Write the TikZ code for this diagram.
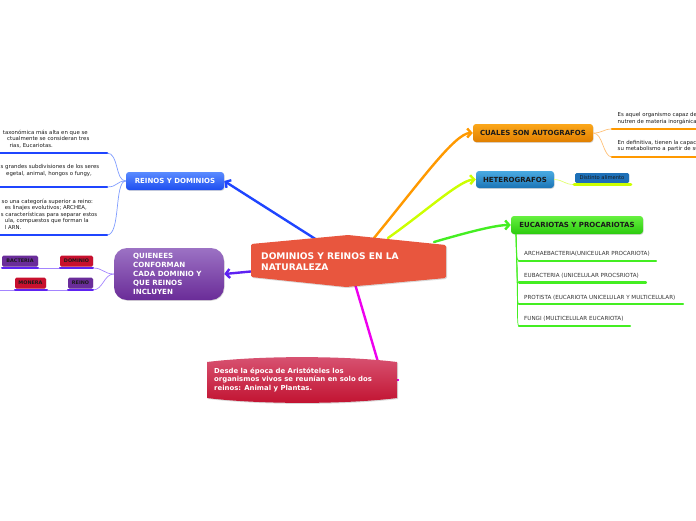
\documentclass[tikz,border=0pt]{standalone}
\usepackage{fontspec}
\setmainfont{DejaVu Sans}
\usetikzlibrary{arrows.meta,shadows}
\pgfdeclarelayer{bg}
\pgfsetlayers{bg,main}
\definecolor{cBlue}{HTML}{1F45FF}
\definecolor{cBlueL}{HTML}{7F9CFF}
\definecolor{cViolet}{HTML}{5E22F2}
\definecolor{cVioletL}{HTML}{A485FF}
\definecolor{cOrange}{HTML}{FF9900}
\definecolor{cOrangeL}{HTML}{FFC27A}
\definecolor{cYG}{HTML}{CCFF00}
\definecolor{cYGL}{HTML}{E2FF70}
\definecolor{cGreen}{HTML}{44EE22}
\definecolor{cMag}{HTML}{EE00EE}
\definecolor{bTop}{HTML}{5A8BFF}
\definecolor{bBot}{HTML}{1E4EF0}
\definecolor{pTop}{HTML}{9C72C4}
\definecolor{pBot}{HTML}{6A2C98}
\definecolor{oTop}{HTML}{FBA71A}
\definecolor{oBot}{HTML}{E07F00}
\definecolor{hTop}{HTML}{4AAAE2}
\definecolor{hBot}{HTML}{1B75B6}
\definecolor{gTop}{HTML}{66F040}
\definecolor{gBot}{HTML}{2BCB0E}
\definecolor{cCenter}{HTML}{E8563E}
\definecolor{rTop}{HTML}{D85473}
\definecolor{rBot}{HTML}{C1112F}
\definecolor{dBlue}{HTML}{1E70B8}
\definecolor{sPurp}{HTML}{6A2D9A}
\definecolor{sRed}{HTML}{C8102E}
\definecolor{txtgray}{HTML}{333333}
\definecolor{darktxt}{HTML}{1A1A1A}
\tikzset{
  mbox/.style={rounded corners=3pt, inner sep=0pt, minimum height=18pt,
    font=\bfseries\fontsize{7}{8.5}\selectfont, text=darktxt,
    drop shadow={opacity=0.3, shadow xshift=0.6pt, shadow yshift=-0.8pt}},
  tinytxt/.style={font=\fontsize{5.6}{6.5}\selectfont, text=txtgray, inner sep=0pt, anchor=west},
  linetxt/.style={font=\fontsize{5.4}{6.5}\selectfont, text=darktxt, inner sep=0pt, anchor=west,
    text height=3.9pt, text depth=1.1pt},
  sbox/.style={rounded corners=1.5pt, inner sep=0pt, minimum height=11pt,
    font=\bfseries\fontsize{4.9}{5.5}\selectfont, text=darktxt,
    drop shadow={opacity=0.25, shadow xshift=0.4pt, shadow yshift=-0.5pt}},
  conn/.style={line width=2.4pt, line cap=round},
  thinline/.style={line width=0.7pt},
  ul/.style={line width=2.6pt, line cap=round},
  tipb/.style={-{Straight Barb[length=4pt,width=9pt]}}
}
\begin{document}
\begin{tikzpicture}[x=1pt,y=-1pt]
\useasboundingbox (0,0) rectangle (696,520);
\clip (0,0) rectangle (696,520);

% ---------- central node ----------
\fill[black, opacity=0.15, rounded corners=1.5pt] (252,245) -- (349,236) -- (447,246) -- (447,279) -- (347,288) -- (252,278) -- cycle;
\fill[cCenter, rounded corners=1.5pt] (251,244) -- (348,235) -- (446,245) -- (446,278) -- (346,287) -- (251,277) -- cycle;
\node[font=\bfseries\fontsize{9.1}{11}\selectfont, text=white, align=left, anchor=west, inner sep=0pt] (main) at (261,261.5) {DOMINIOS Y REINOS EN LA\\NATURALEZA};

% ---------- bottom node ----------
\fill[black, opacity=0.15] (208,363) .. controls (261,356.5) and (345,356.5) .. (398,363) -- (398,399) .. controls (345,405.5) and (261,405.5) .. (208,399) -- cycle;
\shade[top color=rTop, bottom color=rBot] (207,362) .. controls (260,355.5) and (344,355.5) .. (397,362) -- (397,398) .. controls (344,404.5) and (260,404.5) .. (207,398) -- cycle;
\node[font=\bfseries\fontsize{6.9}{8.5}\selectfont, text=white, align=left, anchor=west, inner sep=0pt] (aris) at (214,379.5) {Desde la época de Aristóteles los\\organismos vivos se reunían en solo dos\\reinos: Animal y Plantas.};

% ---------- main topic boxes ----------
\node[mbox, top color=bTop, bottom color=bBot, text=white, minimum width=98pt] (reinos) at (175,181) {REINOS Y DOMINIOS};
\node[rounded corners=13pt, top color=pTop, bottom color=pBot, minimum width=110pt, minimum height=52pt,
  inner sep=0pt, drop shadow={opacity=0.3, shadow xshift=0.6pt, shadow yshift=-0.8pt}] (quien) at (169,274) {};
\node[font=\bfseries\fontsize{7.1}{8.9}\selectfont, text=white, align=left, anchor=west, inner sep=0pt] (quientxt) at (133,273.8)
  {QUIENEES\\CONFORMAN\\CADA DOMINIO Y\\QUE REINOS\\INCLUYEN};
\node[mbox, top color=oTop, bottom color=oBot, minimum width=120pt] (cuales) at (533,133) {CUALES SON AUTOGRAFOS};
\node[mbox, top color=hTop, bottom color=hBot, minimum width=78pt, minimum height=17pt] (hetero) at (515,179.5) {HETEROGRAFOS};
\node[mbox, top color=gTop, bottom color=gBot, minimum width=132pt] (eucar) at (577,225) {EUCARIOTAS Y PROCARIOTAS};

% ---------- small boxes ----------
\node[sbox, fill=sPurp, minimum width=36pt] (bact) at (20,261.2) {BACTERIA};
\node[sbox, fill=sRed, minimum width=33pt] (dom) at (76.5,261.2) {DOMINIO};
\node[sbox, fill=sRed, minimum width=31pt] (mon) at (30.5,283) {MONERA};
\node[sbox, fill=sPurp, minimum width=25pt] (rei) at (80.5,283) {REINO};
\node[sbox, fill=dBlue, minimum width=54pt, minimum height=10pt, font=\fontsize{5.2}{6}\selectfont] (dist) at (602,178) {Distinto alimento};

% ---------- left texts of REINOS Y DOMINIOS ----------
\node[linetxt] (l11) at (2.7,133) {taxonómica más alta en que se};
\node[linetxt] (l12) at (7,139.5) {ctualmente se consideran tres};
\node[linetxt] (l13) at (9.3,146) {rias, Eucariotas.};
\node[linetxt] (l21) at (0.5,167.3) {s grandes subdivisiones de los seres};
\node[linetxt] (l22) at (6,174) {egetal, animal, hongos o fungy,};
\node[linetxt] (l31) at (1.5,201.7) {so una categoría superior a reino:};
\node[linetxt] (l32) at (4.7,208.3) {es linajes evolutivos; ARCHEA,};
\node[linetxt] (l33) at (0.7,215) {s características para separar estos};
\node[linetxt] (l34) at (4.7,221.5) {ula, compuestos que forman la};
\node[linetxt] (l35) at (4.7,228) {l ARN.};

% ---------- right texts of CUALES SON AUTOGRAFOS ----------
\node[linetxt] (r11) at (617.5,115) {Es aquel organismo capaz de};
\node[linetxt] (r12) at (617.5,121.7) {nutren de materia inorgánica};
\node[linetxt] (r21) at (617.5,142.7) {En definitiva, tienen la capacidad};
\node[linetxt] (r22) at (617.5,149.3) {su metabolismo a partir de su};

% ---------- texts of EUCARIOTAS ----------
\node[tinytxt] (e1) at (524,254) {ARCHAEBACTERIA(UNICEULAR PROCARIOTA)};
\node[tinytxt] (e2) at (524,275.7) {EUBACTERIA (UNICELULAR PROCSRIOTA)};
\node[tinytxt] (e3) at (524,297.3) {PROTISTA (EUCARIOTA UNICELULAR Y MULTICELULAR)};
\node[tinytxt] (e4) at (524,319) {FUNGI (MULTICELULAR EUCARIOTA)};

% ---------- coordinates ----------
\coordinate (mB) at (317,240);
\coordinate (mP) at (256,271);
\coordinate (mO) at (374,238);
\coordinate (mY) at (388,238);
\coordinate (mG) at (434,242);
\coordinate (mM) at (355,284);
\coordinate (aT) at (378,362);
\coordinate (magTip) at (396,380);
\coordinate (magTipB) at (399,380);

\coordinate (lu1) at (107,153); \coordinate (lu1s) at (-3,153);
\coordinate (lu2) at (107,187); \coordinate (lu2s) at (-3,187);
\coordinate (lu3) at (107,235); \coordinate (lu3s) at (-3,235);

\coordinate (ru1) at (612,129); \coordinate (ru1e) at (700,129);
\coordinate (ru2) at (612,157); \coordinate (ru2e) at (700,157);

\coordinate (du1) at (574,184.5); \coordinate (du2) at (631,184.5);

\coordinate (eb) at (516,234);
\coordinate (ea1) at (519,261); \coordinate (ee1) at (656,261);
\coordinate (ea2) at (519,282.5); \coordinate (ee2) at (646,282.5);
\coordinate (ea3) at (519,304); \coordinate (ee3) at (683,304);
\coordinate (ea4) at (519,326); \coordinate (ee4) at (630,326);

\coordinate (ba) at (2,268); \coordinate (bb) at (38,268);
\coordinate (da) at (60,268); \coordinate (db) at (93,268);
\coordinate (m0) at (-2,290); \coordinate (ma) at (15,290); \coordinate (mb) at (47,290);
\coordinate (ra) at (68,290); \coordinate (rb) at (93,290);

% ---------- connectors (behind) ----------
\begin{pgfonlayer}{bg}
\draw[conn, cBlue, tipb] (mB) -- (reinos.east);
\draw[conn, cViolet, tipb] (mP) -- (quien.east);
\draw[conn, cOrange, tipb] (mO) .. controls (420,182) and (455,133) .. (cuales.west);
\draw[conn, cYG, tipb] (mY) .. controls (425,212) and (460,180) .. (hetero.west);
\draw[conn, cGreen, tipb] (mG) .. controls (465,233) and (495,225) .. (eucar.west);
\draw[conn, cMag] (mM) -- (aT);
\draw[line width=1.2pt, cMag] (magTip) -- (magTipB);

% REINOS Y DOMINIOS branches
\draw[thinline, cBlueL] (reinos.west) .. controls (115,181) and (119,153) .. (lu1);
\draw[thinline, cBlueL] (reinos.west) .. controls (116,181) and (118,187) .. (lu2);
\draw[thinline, cBlueL] (reinos.west) .. controls (114,181) and (121,235) .. (lu3);
\end{pgfonlayer}
\draw[ul, cBlue] (lu1s) -- (lu1);
\draw[ul, cBlue] (lu2s) -- (lu2);
\draw[ul, cBlue] (lu3s) -- (lu3);

% CUALES branches
\draw[thinline, cOrangeL] (cuales.east) .. controls (603,133) and (603,129) .. (ru1);
\draw[thinline, cOrangeL] (cuales.east) .. controls (603,133) and (603,157) .. (ru2);
\draw[ul, cOrange] (ru1) -- (ru1e);
\draw[ul, cOrange] (ru2) -- (ru2e);

% HETEROGRAFOS branch
\draw[thinline, cYGL] (hetero.east) .. controls (564,180) and (564,184.5) .. (du1);
\draw[ul, cYG] (du1) -- (du2);

% EUCARIOTAS branches
\draw[thinline, cGreen] (eb) .. controls (516,250) and (516,261) .. (ea1);
\draw[thinline, cGreen] (eb) .. controls (517,265) and (516,282.5) .. (ea2);
\draw[thinline, cGreen] (eb) .. controls (518,280) and (516,304) .. (ea3);
\draw[thinline, cGreen] (eb) .. controls (519,300) and (516,326) .. (ea4);
\draw[ul, cGreen, line width=2.2pt] (ea1) -- (ee1);
\draw[ul, cGreen, line width=2.2pt] (ea2) -- (ee2);
\draw[ul, cGreen, line width=2.2pt] (ea3) -- (ee3);
\draw[ul, cGreen, line width=2.2pt] (ea4) -- (ee4);

% QUIENEES branches
\draw[thinline, cVioletL] (quien.west) .. controls (104,274) and (103,268) .. (db);
\draw[thinline, cVioletL] (quien.west) .. controls (104,274) and (103,290) .. (rb);
\draw[thinline, cVioletL] (da) -- (bb);
\draw[thinline, cVioletL] (ra) -- (mb);
\draw[thinline, cVioletL] (ma) -- (m0);
\draw[ul, cViolet, line width=2pt] (ba) -- (bb);
\draw[ul, cViolet, line width=2pt] (da) -- (db);
\draw[ul, cViolet, line width=2pt] (ma) -- (mb);
\draw[ul, cViolet, line width=2pt] (ra) -- (rb);
\end{tikzpicture}
\end{document}
